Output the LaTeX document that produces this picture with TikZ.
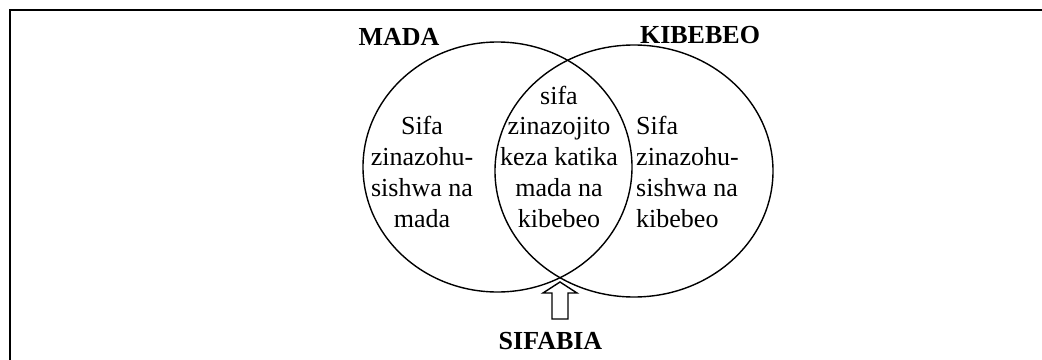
\documentclass[tikz,border=0pt]{standalone}
\usepackage{fontspec}
\setmainfont{Liberation Serif}
\begin{document}
\begin{tikzpicture}[x=1pt,y=-1pt,
  txt/.style={inner sep=0pt,font=\fontsize{26}{30.7}\selectfont,anchor=base},
  hdr/.style={inner sep=0pt,font=\fontsize{26}{30.7}\selectfont\bfseries,anchor=base},
  ring/.style={draw=black,line width=1.4pt},
  frame/.style={draw=black,line width=2.2pt}]
\useasboundingbox (0,0) rectangle (1042,359);
\clip (0,0) rectangle (1042,359);
% frame
\draw[frame] (10,380) -- (10,10) -- (1060,10);
% ellipses
\draw[ring] (497.5,167) ellipse [x radius=134.5pt, y radius=125pt];
\draw[ring] (634,171) ellipse [x radius=139pt, y radius=126pt];
% headers
\node[hdr] (mada) at (399,45) {MADA};
\node[hdr] (kibebeo) at (700,43) {KIBEBEO};
\node[hdr] (sifabia) at (550.5,349) {SIFABIA};
% texts
\node[txt,align=center] (left) at (422,227) {Sifa\\zinazohu-\\sishwa na\\mada};
\node[txt,align=center] (mid) at (559,227) {sifa\\zinazojito\\keza katika\\mada na\\kibebeo};
\node[txt,align=left,anchor=base west] (right) at (636,227) {Sifa\\zinazohu-\\sishwa na\\kibebeo};
% hollow arrow
\draw[line width=1.4pt,line join=miter,fill=white] (560,282) -- (577,293) -- (568,293) -- (568,319) -- (552,319) -- (552,293) -- (543,293) -- cycle;
\end{tikzpicture}
\end{document}
